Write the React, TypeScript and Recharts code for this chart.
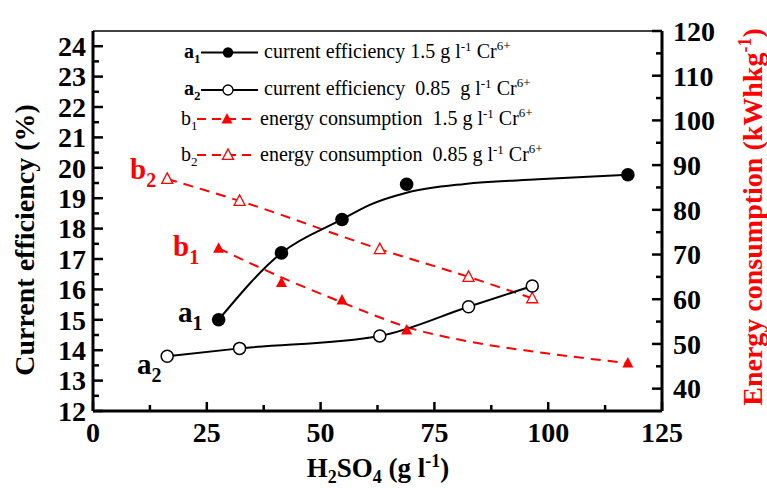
import { ComposedChart, Line, Scatter, XAxis, YAxis, ReferenceLine } from "recharts";

// H2SO4 concentration (g l-1) for the 1.5 g l-1 Cr6+ runs
const xHigh = [27.6, 41.4, 54.7, 68.9, 117.5];
// H2SO4 concentration (g l-1) for the 0.85 g l-1 Cr6+ runs
const xLow = [16.3, 32.2, 63.0, 82.5, 96.5];

const effHigh = [15.0, 17.2, 18.3, 19.46, 19.77];
const effLow = [13.8, 14.06, 14.47, 15.43, 16.11];
const energyHigh = [71.4, 63.7, 59.8, 53.1, 45.7];
const energyLow = [86.9, 82.0, 71.2, 65.0, 60.2];

// fitted curves as drawn in the figure
const effHighFitX = [27.6, 41.4, 54.7, 60.8, 68.9, 81.7, 97.8, 117.5];
const effHighFitY = [15.0, 17.2, 18.3, 18.78, 19.18, 19.47, 19.62, 19.77];
const energyHighFitX = [27.6, 41.4, 54.7, 60.8, 68.9, 82.8, 97.5, 117.5];
const energyHighFitY = [71.4, 64.9, 59.3, 56.8, 53.8, 50.5, 48.2, 45.7];

const xTicks = [0, 12.5, 25, 37.5, 50, 62.5, 75, 87.5, 100, 112.5, 125];
const leftTicks = [12, 12.5, 13, 13.5, 14, 14.5, 15, 15.5, 16, 16.5, 17, 17.5, 18, 18.5, 19, 19.5, 20, 20.5, 21, 21.5, 22, 22.5, 23, 23.5, 24];
const rightTicks = [40, 45, 50, 55, 60, 65, 70, 75, 80, 85, 90, 95, 100, 105, 110, 115, 120];

const zip = (xs: number[], ys: number[]) => xs.map((x, i) => ({ x, y: ys[i] }));

const FONT = "'Liberation Serif', 'Times New Roman', serif";
const RED = "#ff0000";
const LEFT_X = 93;
const RIGHT_X = 662;
const BOTTOM_Y = 411;

const LeftTick = ({ y, payload }: any) => {
  const major = Number.isInteger(payload.value);
  return (
    <g>
      <line x1={LEFT_X} y1={y} x2={LEFT_X + (major ? 10 : 6)} y2={y} stroke="#000" strokeWidth={2.5} />
      {major && (
        <text x={LEFT_X - 7} y={y} dy="0.35em" textAnchor="end" fontFamily={FONT} fontWeight="bold" fontSize={28} fill="#000">
          {payload.value}
        </text>
      )}
    </g>
  );
};

const RightTick = ({ y, payload }: any) => {
  const major = payload.value % 10 === 0;
  return (
    <g>
      <line x1={RIGHT_X} y1={y} x2={RIGHT_X - (major ? 10 : 6)} y2={y} stroke="#000" strokeWidth={2.5} />
      {major && (
        <text x={RIGHT_X + 11} y={y} dy="0.35em" textAnchor="start" fontFamily={FONT} fontWeight="bold" fontSize={28} fill="#000">
          {payload.value}
        </text>
      )}
    </g>
  );
};

const BottomTick = ({ x, payload }: any) => {
  const major = payload.value % 25 === 0;
  return (
    <g>
      <line x1={x} y1={BOTTOM_Y} x2={x} y2={BOTTOM_Y - (major ? 9 : 6)} stroke="#000" strokeWidth={2.5} />
      {major && (
        <text x={x} y={BOTTOM_Y + 31} textAnchor="middle" fontFamily={FONT} fontWeight="bold" fontSize={28} fill="#000">
          {payload.value}
        </text>
      )}
    </g>
  );
};

const tri = (cx: number, cy: number, s: number) =>
  `M${cx},${cy - s * 0.55} L${cx + s / 2},${cy + s * 0.4} L${cx - s / 2},${cy + s * 0.4} Z`;

const FilledCircle = ({ cx, cy }: any) => <circle cx={cx} cy={cy} r={6.8} fill="#000" />;
const OpenCircle = ({ cx, cy }: any) => <circle cx={cx} cy={cy} r={6} fill="#fff" stroke="#000" strokeWidth={1.5} />;
const FilledTri = ({ cx, cy }: any) => <path d={tri(cx, cy, 11)} fill={RED} />;
const OpenTri = ({ cx, cy }: any) => <path d={tri(cx, cy, 11)} fill="#fff" stroke={RED} strokeWidth={1.3} />;

// legend text of the form "<lead> g l^-1 Cr^6+"
const LegendText = ({ x, y, lead }: { x: number; y: number; lead: string }) => (
  <text x={x} y={y} xmlSpace="preserve">
    {lead + " g l"}
    <tspan dy={-7} fontSize={13}>-1</tspan>
    <tspan dy={7}> Cr</tspan>
    <tspan dy={-8} fontSize={13}>6+</tspan>
  </text>
);

const Overlay = () => (
  <svg width={767} height={488} style={{ position: "absolute", left: 0, top: 0, pointerEvents: "none" }} fontFamily={FONT}>
    {/* legend */}
    <g fontSize={20} fill="#000">
      <text x={184} y={58} fontWeight="bold">a<tspan dy={5} fontSize={13}>1</tspan></text>
      <line x1={201} y1={52.5} x2={258} y2={52.5} stroke="#000" strokeWidth={2} />
      <circle cx={228} cy={52.5} r={5.2} fill="#000" />
      <LegendText x={264} y={58} lead="current efficiency 1.5" />

      <text x={184} y={95} fontWeight="bold">a<tspan dy={5} fontSize={13}>2</tspan></text>
      <line x1={201} y1={90} x2={258} y2={90} stroke="#000" strokeWidth={2} />
      <circle cx={228} cy={90} r={5} fill="#fff" stroke="#000" strokeWidth={1.3} />
      <LegendText x={264} y={95} lead="current efficiency  0.85 " />

      <text x={181} y={125}>b<tspan dy={5} fontSize={13}>1</tspan></text>
      <line x1={197} y1={119} x2={257} y2={119} stroke={RED} strokeWidth={2} strokeDasharray="9 6" />
      <path d={tri(227, 119, 11)} fill={RED} />
      <LegendText x={260} y={125} lead="energy consumption  1.5" />

      <text x={181} y={161}>b<tspan dy={5} fontSize={13}>2</tspan></text>
      <line x1={197} y1={155} x2={257} y2={155} stroke={RED} strokeWidth={2} strokeDasharray="9 6" />
      <path d={tri(228, 155, 11)} fill="#fff" stroke={RED} strokeWidth={1.3} />
      <LegendText x={260} y={161} lead="energy consumption  0.85" />
    </g>

    {/* curve labels */}
    <g fontWeight="bold" fontSize={29}>
      <text x={130} y={179} fill={RED}>b<tspan dy={8} fontSize={20}>2</tspan></text>
      <text x={173} y={256} fill={RED}>b<tspan dy={8} fontSize={20}>1</tspan></text>
      <text x={178} y={322} fill="#000">a<tspan dy={8} fontSize={20}>1</tspan></text>
      <text x={137} y={374} fill="#000">a<tspan dy={8} fontSize={20}>2</tspan></text>
    </g>

    {/* axis titles */}
    <text transform="translate(34,240) rotate(-90)" textAnchor="middle" fontWeight="bold" fontSize={28} fill="#000">
      Current efficiency (%)
    </text>
    <text transform="translate(762,217) rotate(-90)" textAnchor="middle" fontWeight="bold" fontSize={28} fill={RED}>
      Energy consumption (kWhkg
      <tspan dy={-11} fontSize={18}>-1</tspan>
      <tspan dy={11}>)</tspan>
    </text>
    <text x={378} y={477} textAnchor="middle" fontWeight="bold" fontSize={27} fill="#000">
      H<tspan dy={6} fontSize={18}>2</tspan><tspan dy={-6}>SO</tspan><tspan dy={6} fontSize={18}>4</tspan>
      <tspan dy={-6}> (g l</tspan><tspan dy={-10} fontSize={18}>-1</tspan><tspan dy={10}>)</tspan>
    </text>
  </svg>
);

export default function App() {
  return (
    <div style={{ position: "absolute", left: 0, top: 0, width: 767, height: 488, background: "#fff" }}>
      <ComposedChart width={767} height={488} margin={{ top: 31, right: 0, bottom: 0, left: 0 }}>
        <XAxis
          type="number"
          dataKey="x"
          domain={[0, 125]}
          ticks={xTicks}
          interval={0}
          height={77}
          tickSize={0}
          tickMargin={0}
          tick={BottomTick}
          axisLine={{ stroke: "#000", strokeWidth: 3 }}
          tickLine={false}
        />
        <YAxis
          yAxisId="left"
          type="number"
          domain={[12, 24.5]}
          ticks={leftTicks}
          interval={0}
          width={93}
          tickSize={0}
          tickMargin={0}
          tick={LeftTick}
          axisLine={{ stroke: "#000", strokeWidth: 3 }}
          tickLine={false}
        />
        <YAxis
          yAxisId="right"
          orientation="right"
          type="number"
          domain={[35, 120]}
          ticks={rightTicks}
          interval={0}
          width={105}
          tickSize={0}
          tickMargin={0}
          tick={RightTick}
          axisLine={{ stroke: "#000", strokeWidth: 3 }}
          tickLine={false}
        />
        <ReferenceLine yAxisId="left" y={24.5} stroke="#000" strokeWidth={1.5} />

        <Line yAxisId="right" data={zip(energyHighFitX, energyHighFitY)} dataKey="y" type="monotone" stroke={RED} strokeWidth={2} strokeDasharray="10 7" dot={false} isAnimationActive={false} />
        <Line yAxisId="right" data={zip(xLow, energyLow)} dataKey="y" type="monotone" stroke={RED} strokeWidth={2} strokeDasharray="10 7" dot={false} isAnimationActive={false} />
        <Line yAxisId="left" data={zip(effHighFitX, effHighFitY)} dataKey="y" type="monotone" stroke="#000" strokeWidth={2} dot={false} isAnimationActive={false} />
        <Line yAxisId="left" data={zip(xLow, effLow)} dataKey="y" type="monotone" stroke="#000" strokeWidth={2} dot={false} isAnimationActive={false} />

        <Scatter yAxisId="right" data={zip(xHigh, energyHigh)} dataKey="y" shape={FilledTri} isAnimationActive={false} />
        <Scatter yAxisId="right" data={zip(xLow, energyLow)} dataKey="y" shape={OpenTri} isAnimationActive={false} />
        <Scatter yAxisId="left" data={zip(xHigh, effHigh)} dataKey="y" shape={FilledCircle} isAnimationActive={false} />
        <Scatter yAxisId="left" data={zip(xLow, effLow)} dataKey="y" shape={OpenCircle} isAnimationActive={false} />
      </ComposedChart>
      <Overlay />
    </div>
  );
}
